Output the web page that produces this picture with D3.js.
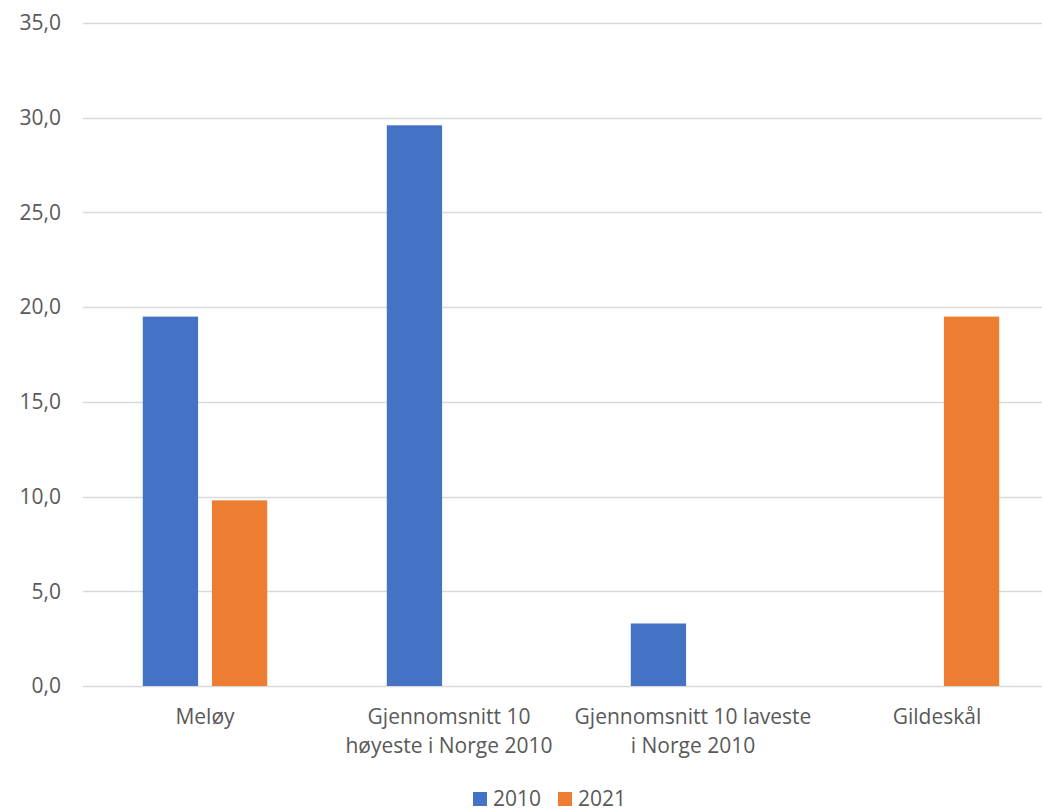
<!DOCTYPE html>
<html>
<head>
<meta charset="utf-8">
<script src="https://cdn.jsdelivr.net/npm/d3@7"></script>
<style>
  body { margin: 0; background: #fff; }
  text { font-family: "Open Sans", sans-serif; fill: #595959; }
</style>
</head>
<body>
<svg id="chart"></svg>
<script>
// chart data
var categories = [
  ["Meløy"],
  ["Gjennomsnitt 10", "høyeste i Norge 2010"],
  ["Gjennomsnitt 10 laveste", "i Norge 2010"],
  ["Gildeskål"]
];
var seriesNames = ["2010", "2021"];
var values2010 = [19.5, 29.6, 3.3, null];
var values2021 = [9.8, null, null, 19.5];
var yTicks = [0, 5, 10, 15, 20, 25, 30, 35];
var colors = ["#4472c4", "#ed7d31"];

var W = 1042, H = 810;
var svg = d3.select("#chart").attr("width", W).attr("height", H);

// plot area runs past the right edge like the original screenshot
var plotLeft = 83, plotRight = 1059, plotTop = 23, plotBottom = 686;
var fontSize = "21px";

var y = d3.scaleLinear().domain([0, 35]).range([plotBottom, plotTop]);
var x = d3.scaleBand()
    .domain(d3.range(categories.length))
    .range([plotLeft, plotRight])
    .paddingInner(0.49)
    .paddingOuter(0.245);
var xSub = d3.scaleBand()
    .domain(seriesNames)
    .range([0, x.bandwidth()])
    .paddingInner(0.2);

// gridlines
svg.append("g").selectAll("line")
    .data(yTicks)
    .enter().append("line")
    .attr("x1", plotLeft).attr("x2", plotRight)
    .attr("y1", function(d) { return Math.round(y(d)) + 0.5; })
    .attr("y2", function(d) { return Math.round(y(d)) + 0.5; })
    .style("stroke", "#d9d9d9")
    .style("stroke-width", 1.3);

// y axis labels
var yAxis = d3.axisLeft(y)
    .tickValues(yTicks)
    .tickSize(0)
    .tickPadding(22)
    .tickFormat(function(d) { return d3.format(".1f")(d).replace(".", ","); });
var yg = svg.append("g")
    .attr("transform", "translate(" + plotLeft + ",0)")
    .call(yAxis);
yg.select(".domain").remove();
yg.selectAll("text").style("font-size", fontSize).attr("fill", "#595959")
    .style("font-family", "'Open Sans', sans-serif");

// bars
var series = [values2010, values2021];
series.forEach(function(vals, si) {
  svg.append("g").selectAll("rect")
      .data(vals.map(function(v, i) { return {i: i, v: v}; }).filter(function(d) { return d.v != null; }))
      .enter().append("rect")
      .attr("x", function(d) { return x(d.i) + xSub(seriesNames[si]); })
      .attr("width", xSub.bandwidth())
      .attr("y", function(d) { return y(d.v); })
      .attr("height", function(d) { return y(0) - y(d.v); })
      .style("fill", colors[si]);
});

// category labels
var xg = svg.append("g");
categories.forEach(function(lines, i) {
  var t = xg.append("text")
      .attr("text-anchor", "middle")
      .attr("x", x(i) + x.bandwidth() / 2)
      .attr("y", 724)
      .style("font-size", fontSize);
  lines.forEach(function(line, k) {
    t.append("tspan")
      .attr("x", x(i) + x.bandwidth() / 2)
      .attr("dy", k === 0 ? 0 : 29)
      .text(line);
  });
});

// legend
var legendX = [473, 558];
var legend = svg.append("g");
seriesNames.forEach(function(name, i) {
  legend.append("rect")
      .attr("x", legendX[i]).attr("y", 792)
      .attr("width", 14).attr("height", 14)
      .style("fill", colors[i]);
  legend.append("text")
      .attr("x", legendX[i] + 20).attr("y", 806)
      .style("font-size", fontSize)
      .text(name);
});
</script>
</body>
</html>
